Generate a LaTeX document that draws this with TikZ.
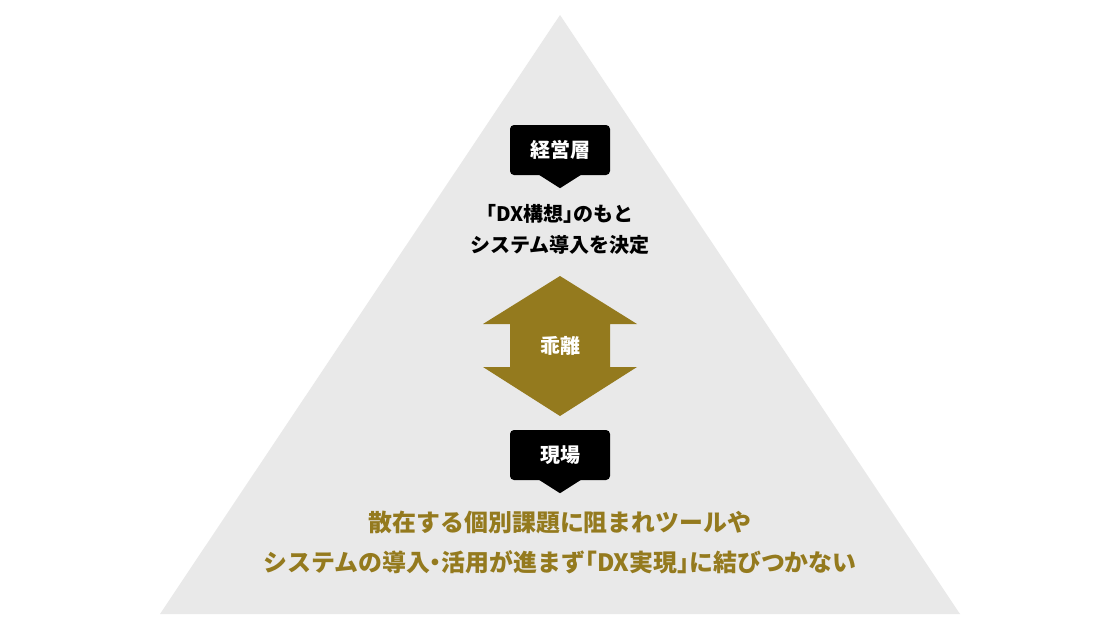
\documentclass[tikz,border=0pt]{standalone}
\usepackage{fontspec}
\newfontfamily\jp{Noto Sans CJK JP}
\newfontfamily\jph[RawFeature=+halt]{Noto Sans CJK JP}
\usetikzlibrary{calc}
\definecolor{pyrgray}{HTML}{E9E9E9}
\definecolor{gold}{HTML}{947A1E}
\tikzset{
  tag/.style={fill=black, text=white, rounded corners=4pt, minimum width=100pt, minimum height=50pt, inner sep=0pt, font=\jp\bfseries\fontsize{20}{22}\selectfont},
  bodytext/.style={align=center, inner sep=0pt},
}
\newcommand{\hb}[1]{{\jph #1}}
\begin{document}
\begin{tikzpicture}[x=1pt,y=-1pt]
\useasboundingbox (0,0) rectangle (1120,630);
\fill[white] (0,0) rectangle (1120,630);
% pyramid
\fill[pyrgray] (560,15) -- (960,614) -- (160,614) -- cycle;
% top tag
\node[tag] (mgmt) at (560,150) {経営層};
\fill[black] ($(mgmt.south)+(-22,-1)$) -- ($(mgmt.south)+(0,13)$) -- ($(mgmt.south)+(22,-1)$) -- cycle;
\node[bodytext, font=\jp\bfseries\fontsize{20}{31}\selectfont] (top) at (560,229) {\hb{「}DX構想\hb{」}のもと\\システム導入を決定};
% double arrow
\fill[gold] (560,276) -- (637,324) -- (610,324) -- (610,367) -- (637,367) -- (560,416) -- (483,367) -- (510,367) -- (510,324) -- (483,324) -- cycle;
\node[text=white, font=\jp\bfseries\fontsize{20}{22}\selectfont, inner sep=0pt] (gap) at (560,346) {乖離};
% bottom tag
\node[tag] (field) at (560,455) {現場};
\fill[black] ($(field.south)+(-22,-1)$) -- ($(field.south)+(0,13)$) -- ($(field.south)+(22,-1)$) -- cycle;
\node[bodytext, text=gold, font=\jp\bfseries\fontsize{23.9}{40}\selectfont] (bottom) at (560,542) {散在する個別課題に阻まれツールや\\システムの導入\hb{・}活用が進まず\hb{「}DX実現\hb{」}に結びつかない};
\end{tikzpicture}
\end{document}
